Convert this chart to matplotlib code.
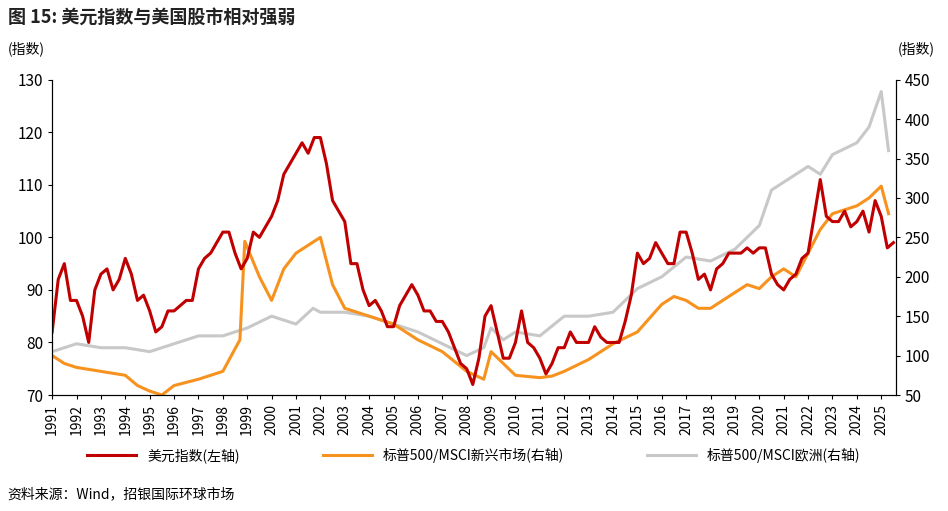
import matplotlib
matplotlib.use("Agg")
import matplotlib.pyplot as plt
import numpy as np

plt.rcParams['font.family'] = ['Noto Sans CJK SC', 'DejaVu Sans']

dxy = [82,92,95,88, 88,85,80,90, 93,94,90,92, 96,93,88,89, 86,82,83,86, 86,87,88,88,
       94,96,97,99, 101,101,97,94, 96,101,100,102, 104,107,112,114, 116,118,116,119,
       119,114,107,105, 103,95,95,90, 87,88,86,83, 83,87,89,91, 89,86,86,84,
       84,82,79,76, 75,72,77,85, 87,82,77,77, 80,86,80,79, 77,74,76,79,
       79,82,80,80, 80,83,81,80, 80,80,84,89, 97,95,96,99, 97,95,95,101,
       101,97,92,93, 90,94,95,97, 97,97,98,97, 98,98,93,91, 90,92,93,96,
       97,104,111,104, 103,103,105,102, 103,105,101,107, 104,98,99]
dxy_t = [1991 + i*0.25 for i in range(len(dxy))]

em_t = [1991,1991.5,1992,1993,1994,1994.5,1995,1995.5,1996,1997,1998,1998.7,1998.9,1999.5,2000,2000.5,2001,2001.5,
        2002,2002.5,2003,2004,2005,2006,2007,2008,2008.7,2009,2009.5,2010,2011,2011.5,2012,2013,2014,2015,
        2016,2016.5,2017,2017.5,2018,2019,2019.5,2020,2020.5,2021,2021.5,2022,2022.5,2023,2023.5,2024,2024.5,
        2025,2025.3]
em = [100,90,85,80,75,62,55,50,62,70,80,120,245,200,170,210,230,240,250,190,160,150,140,120,105,80,70,105,90,
      75,72,74,80,95,115,130,165,175,170,160,160,180,190,185,200,210,200,230,260,280,285,290,300,315,280]

eu_t = [1991,1992,1993,1994,1995,1996,1997,1998,1999,2000,2001,2001.7,2002,2003,2004,2005,2006,2007,2008,2008.7,
        2009,2009.5,2010,2011,2012,2013,2014,2015,2016,2017,2018,2019,2020,2020.5,2021,2022,2022.5,2023,
        2024,2024.5,2025,2025.3]
eu = [105,115,110,110,105,115,125,125,135,150,140,160,155,155,150,140,130,115,100,110,135,120,130,125,150,150,
      155,185,200,225,220,235,265,310,320,340,330,355,370,390,435,360]

years = list(range(1991, 2026))

fig = plt.figure(figsize=(9.48, 5.11), dpi=100)
ax = fig.add_axes([0.055, 0.227, 0.89, 0.617])
ax2 = ax.twinx()
l3, = ax2.plot(eu_t, eu, color='#c8c8c8', lw=2.2)
l2, = ax2.plot(em_t, em, color='#f7921e', lw=2.2)
l1, = ax.plot(dxy_t, dxy, color='#c00000', lw=2.2)
ax.set_zorder(ax2.get_zorder() + 1)
ax.patch.set_visible(False)

ax.set_ylim(70, 130)
ax.set_yticks(range(70, 131, 10))
ax2.set_ylim(50, 450)
ax2.set_yticks(range(50, 451, 50))
ax.set_xlim(1991, 2025.6)
ax.set_xticks(years)
ax.set_xticklabels([str(y) for y in years], rotation=90, fontsize=10)
for a in (ax, ax2):
    a.tick_params(labelsize=11, length=3)
    a.spines['top'].set_visible(False)
ax.tick_params(axis='x', labelsize=10)

fig.text(0.008, 0.955, '图 15: 美元指数与美国股市相对强弱', fontsize=13, fontweight='bold', color='#222222')
fig.text(0.008, 0.895, '(指数)', fontsize=10)
fig.text(0.947, 0.895, '(指数)', fontsize=10)
fig.text(0.008, 0.025, '资料来源：Wind，招银国际环球市场', fontsize=10)
fig.legend([l1, l2, l3], ['美元指数(左轴)', '标普500/MSCI新兴市场(右轴)', '标普500/MSCI欧洲(右轴)'],
           loc='lower center', bbox_to_anchor=(0.5, 0.07), ncol=3, frameon=False, fontsize=10,
           handlelength=3.5, columnspacing=6)
fig.savefig('out.png', dpi=100)
